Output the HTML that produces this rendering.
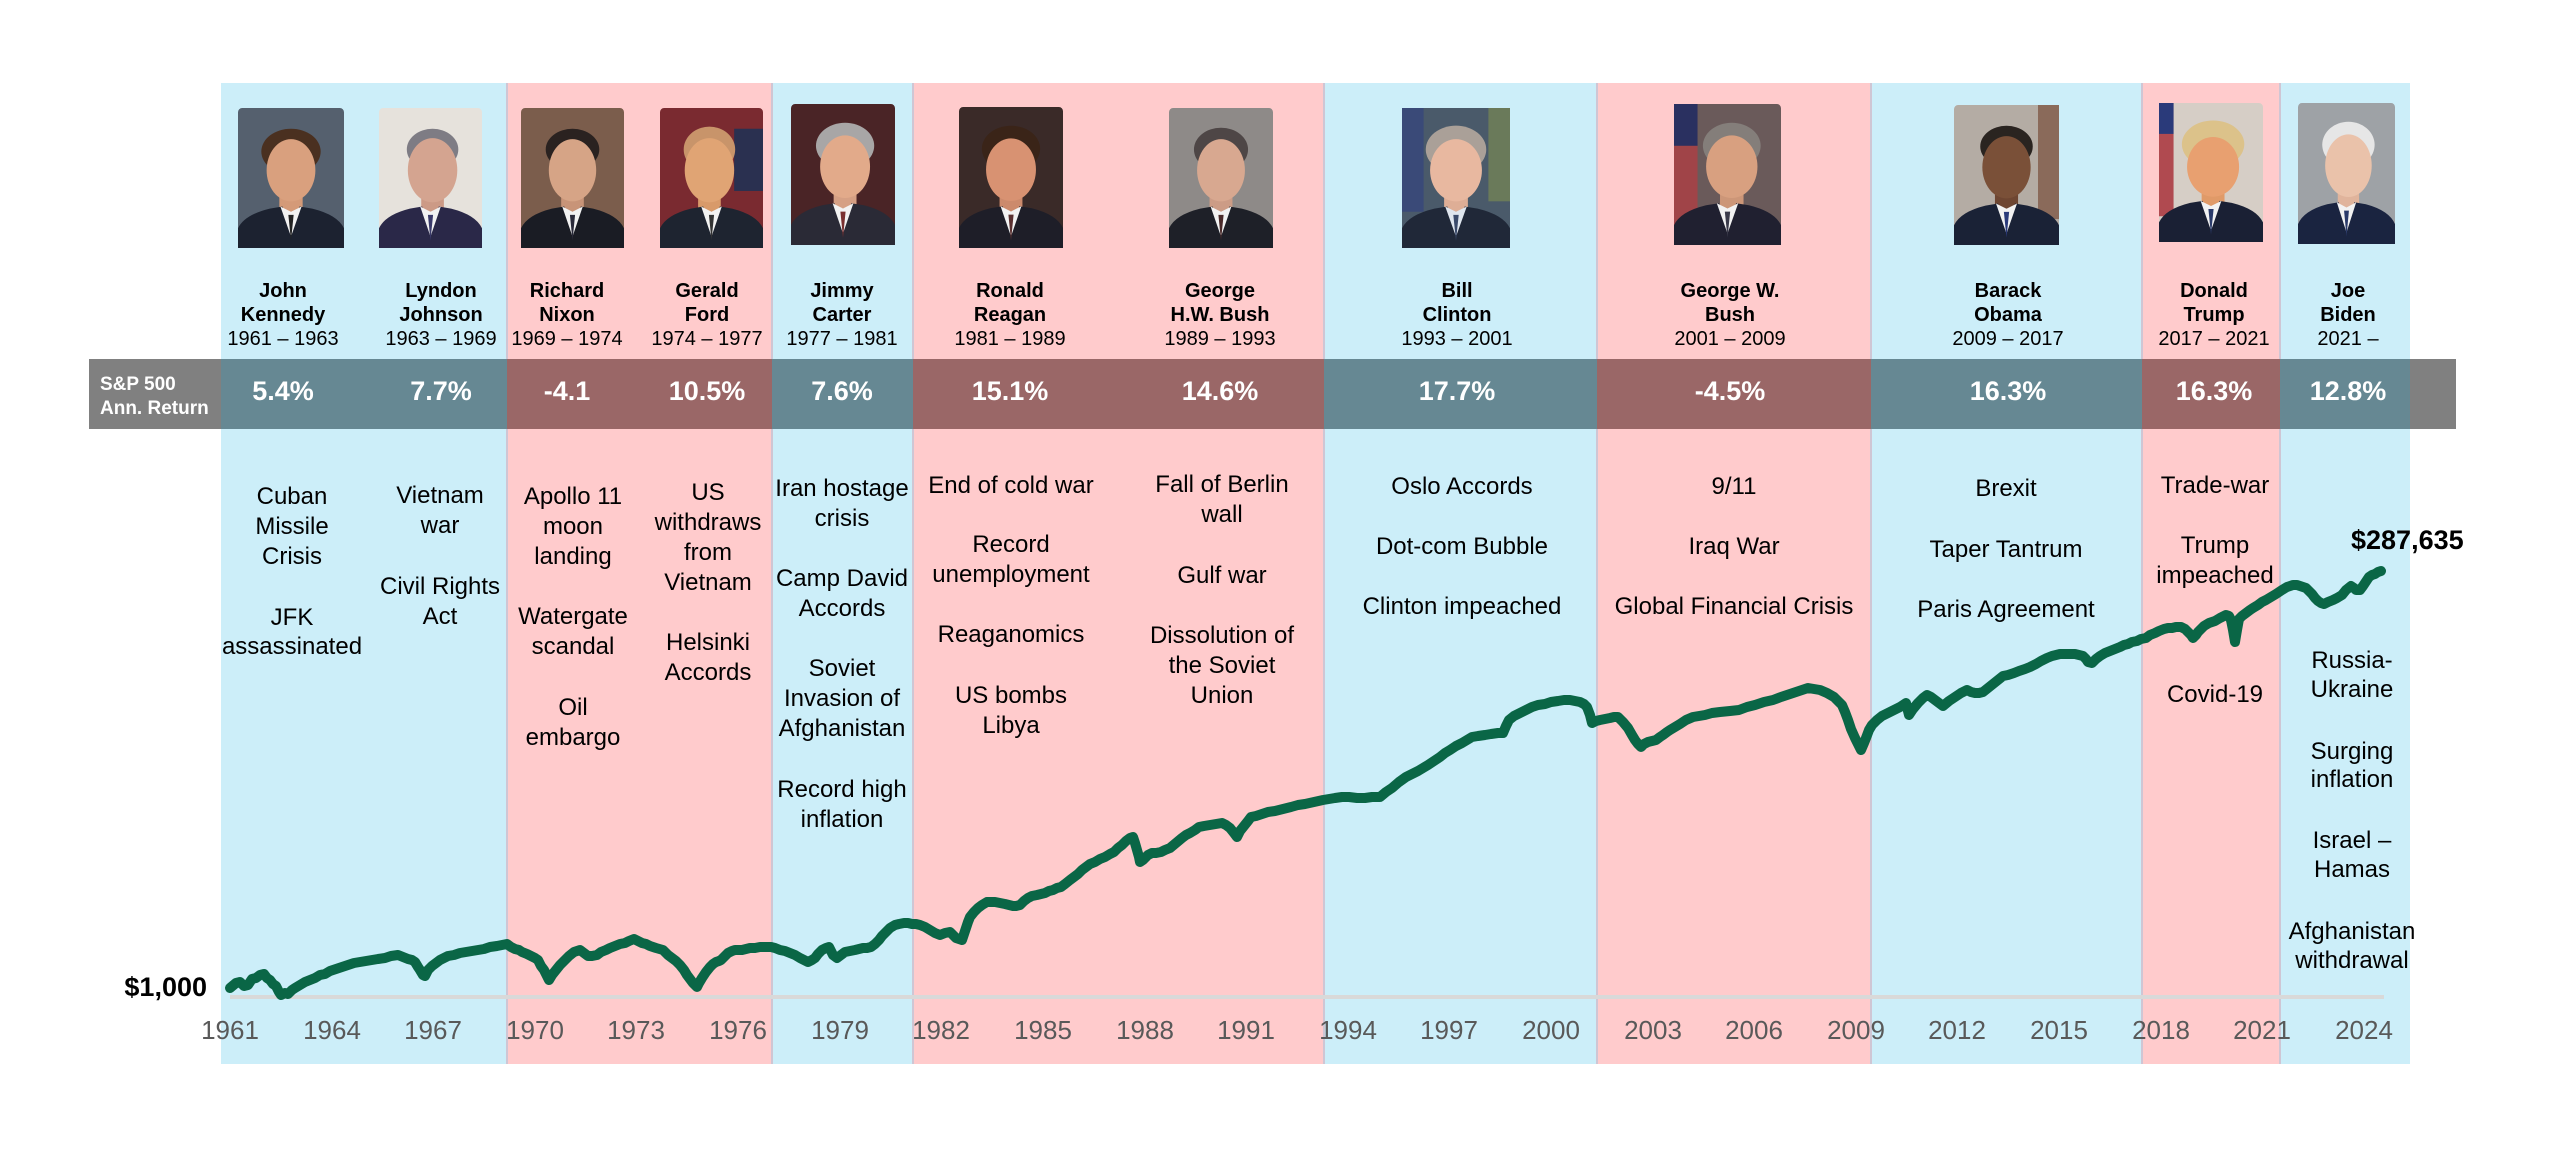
<!DOCTYPE html>
<html>
<head>
<meta charset="utf-8">
<style>
html,body{margin:0;padding:0;background:#fff;}
body{width:2560px;height:1157px;overflow:hidden;}
svg{display:block;}
text{font-family:"Liberation Sans",Arial,sans-serif;}
.nm{font-size:20px;font-weight:bold;fill:#000;text-anchor:middle;}
.dt{font-size:20px;fill:#000;text-anchor:middle;}
.pc{font-size:27px;font-weight:bold;fill:#fff;text-anchor:middle;}
.ev{font-size:24px;fill:#000;text-anchor:middle;}
.yr{font-size:26px;fill:#595959;text-anchor:middle;}
</style>
</head>
<body>
<svg width="2560" height="1157" viewBox="0 0 2560 1157" xmlns="http://www.w3.org/2000/svg">
<!-- background bands -->
<rect x="221" y="83" width="286" height="981" fill="#cceef9"/>
<rect x="507" y="83" width="265" height="981" fill="#ffcbcc"/>
<rect x="772" y="83" width="141" height="981" fill="#cceef9"/>
<rect x="913" y="83" width="411" height="981" fill="#ffcbcc"/>
<rect x="1324" y="83" width="273" height="981" fill="#cceef9"/>
<rect x="1597" y="83" width="274" height="981" fill="#ffcbcc"/>
<rect x="1871" y="83" width="271" height="981" fill="#cceef9"/>
<rect x="2142" y="83" width="138" height="981" fill="#ffcbcc"/>
<rect x="2280" y="83" width="130" height="981" fill="#cceef9"/>
<!-- boundary lines -->
<g stroke="#cfc6d4" stroke-width="2">
<line x1="507" y1="83" x2="507" y2="1064"/>
<line x1="772" y1="83" x2="772" y2="1064"/>
<line x1="913" y1="83" x2="913" y2="1064"/>
<line x1="1324" y1="83" x2="1324" y2="1064"/>
<line x1="1597" y1="83" x2="1597" y2="1064"/>
<line x1="1871" y1="83" x2="1871" y2="1064"/>
<line x1="2142" y1="83" x2="2142" y2="1064"/>
<line x1="2280" y1="83" x2="2280" y2="1064"/>
</g>
<!-- gray return band -->
<rect x="89" y="359" width="132" height="70" fill="#808080"/>
<rect x="221" y="359" width="286" height="70" fill="#668893"/>
<rect x="507" y="359" width="265" height="70" fill="#9a6767"/>
<rect x="772" y="359" width="141" height="70" fill="#668893"/>
<rect x="913" y="359" width="411" height="70" fill="#9a6767"/>
<rect x="1324" y="359" width="273" height="70" fill="#668893"/>
<rect x="1597" y="359" width="274" height="70" fill="#9a6767"/>
<rect x="1871" y="359" width="271" height="70" fill="#668893"/>
<rect x="2142" y="359" width="138" height="70" fill="#9a6767"/>
<rect x="2280" y="359" width="130" height="70" fill="#668893"/>
<rect x="2410" y="359" width="46" height="70" fill="#808080"/>

<text x="100" y="390" style="font-size:19px;font-weight:bold;fill:#fff;">S&amp;P 500</text>
<text x="100" y="414" style="font-size:19px;font-weight:bold;fill:#fff;">Ann. Return</text>

<text class="pc" x="283" y="400">5.4%</text>
<text class="pc" x="441" y="400">7.7%</text>
<text class="pc" x="567" y="400">-4.1</text>
<text class="pc" x="707" y="400">10.5%</text>
<text class="pc" x="842" y="400">7.6%</text>
<text class="pc" x="1010" y="400">15.1%</text>
<text class="pc" x="1220" y="400">14.6%</text>
<text class="pc" x="1457" y="400">17.7%</text>
<text class="pc" x="1730" y="400">-4.5%</text>
<text class="pc" x="2008" y="400">16.3%</text>
<text class="pc" x="2214" y="400">16.3%</text>
<text class="pc" x="2348" y="400">12.8%</text>

<!-- names -->
<text class="nm" x="283" y="297">John</text><text class="nm" x="283" y="321">Kennedy</text><text class="dt" x="283" y="345">1961 – 1963</text>
<text class="nm" x="441" y="297">Lyndon</text><text class="nm" x="441" y="321">Johnson</text><text class="dt" x="441" y="345">1963 – 1969</text>
<text class="nm" x="567" y="297">Richard</text><text class="nm" x="567" y="321">Nixon</text><text class="dt" x="567" y="345">1969 – 1974</text>
<text class="nm" x="707" y="297">Gerald</text><text class="nm" x="707" y="321">Ford</text><text class="dt" x="707" y="345">1974 – 1977</text>
<text class="nm" x="842" y="297">Jimmy</text><text class="nm" x="842" y="321">Carter</text><text class="dt" x="842" y="345">1977 – 1981</text>
<text class="nm" x="1010" y="297">Ronald</text><text class="nm" x="1010" y="321">Reagan</text><text class="dt" x="1010" y="345">1981 – 1989</text>
<text class="nm" x="1220" y="297">George</text><text class="nm" x="1220" y="321">H.W. Bush</text><text class="dt" x="1220" y="345">1989 – 1993</text>
<text class="nm" x="1457" y="297">Bill</text><text class="nm" x="1457" y="321">Clinton</text><text class="dt" x="1457" y="345">1993 – 2001</text>
<text class="nm" x="1730" y="297">George W.</text><text class="nm" x="1730" y="321">Bush</text><text class="dt" x="1730" y="345">2001 – 2009</text>
<text class="nm" x="2008" y="297">Barack</text><text class="nm" x="2008" y="321">Obama</text><text class="dt" x="2008" y="345">2009 – 2017</text>
<text class="nm" x="2214" y="297">Donald</text><text class="nm" x="2214" y="321">Trump</text><text class="dt" x="2214" y="345">2017 – 2021</text>
<text class="nm" x="2348" y="297">Joe</text><text class="nm" x="2348" y="321">Biden</text><text class="dt" x="2348" y="345">2021 –</text>

<!-- events -->
<text class="ev" x="292" y="504">Cuban</text><text class="ev" x="292" y="534">Missile</text><text class="ev" x="292" y="564">Crisis</text><text class="ev" x="292" y="625">JFK</text><text class="ev" x="292" y="654">assassinated</text>
<text class="ev" x="440" y="503">Vietnam</text><text class="ev" x="440" y="533">war</text><text class="ev" x="440" y="594">Civil Rights</text><text class="ev" x="440" y="624">Act</text>
<text class="ev" x="573" y="504">Apollo 11</text><text class="ev" x="573" y="534">moon</text><text class="ev" x="573" y="564">landing</text><text class="ev" x="573" y="624">Watergate</text><text class="ev" x="573" y="654">scandal</text><text class="ev" x="573" y="715">Oil</text><text class="ev" x="573" y="745">embargo</text>
<text class="ev" x="708" y="500">US</text><text class="ev" x="708" y="530">withdraws</text><text class="ev" x="708" y="560">from</text><text class="ev" x="708" y="590">Vietnam</text><text class="ev" x="708" y="650">Helsinki</text><text class="ev" x="708" y="680">Accords</text>
<text class="ev" x="842" y="496">Iran hostage</text><text class="ev" x="842" y="526">crisis</text><text class="ev" x="842" y="586">Camp David</text><text class="ev" x="842" y="616">Accords</text><text class="ev" x="842" y="676">Soviet</text><text class="ev" x="842" y="706">Invasion of</text><text class="ev" x="842" y="736">Afghanistan</text><text class="ev" x="842" y="797">Record high</text><text class="ev" x="842" y="827">inflation</text>
<text class="ev" x="1011" y="493">End of cold war</text><text class="ev" x="1011" y="552">Record</text><text class="ev" x="1011" y="582">unemployment</text><text class="ev" x="1011" y="642">Reaganomics</text><text class="ev" x="1011" y="703">US bombs</text><text class="ev" x="1011" y="733">Libya</text>
<text class="ev" x="1222" y="492">Fall of Berlin</text><text class="ev" x="1222" y="522">wall</text><text class="ev" x="1222" y="583">Gulf war</text><text class="ev" x="1222" y="643">Dissolution of</text><text class="ev" x="1222" y="673">the Soviet</text><text class="ev" x="1222" y="703">Union</text>
<text class="ev" x="1462" y="494">Oslo Accords</text><text class="ev" x="1462" y="554">Dot-com Bubble</text><text class="ev" x="1462" y="614">Clinton impeached</text>
<text class="ev" x="1734" y="494">9/11</text><text class="ev" x="1734" y="554">Iraq War</text><text class="ev" x="1734" y="614">Global Financial Crisis</text>
<text class="ev" x="2006" y="496">Brexit</text><text class="ev" x="2006" y="557">Taper Tantrum</text><text class="ev" x="2006" y="617">Paris Agreement</text>
<text class="ev" x="2215" y="493">Trade-war</text><text class="ev" x="2215" y="553">Trump</text><text class="ev" x="2215" y="583">impeached</text><text class="ev" x="2215" y="702">Covid-19</text>
<text class="ev" x="2352" y="668">Russia-</text><text class="ev" x="2352" y="697">Ukraine</text><text class="ev" x="2352" y="759">Surging</text><text class="ev" x="2352" y="787">inflation</text><text class="ev" x="2352" y="848">Israel –</text><text class="ev" x="2352" y="877">Hamas</text><text class="ev" x="2352" y="939">Afghanistan</text><text class="ev" x="2352" y="968">withdrawal</text>

<!-- axis -->
<line x1="230" y1="997" x2="2384" y2="997" stroke="#d9d9d9" stroke-width="4"/>
<text class="yr" x="230" y="1039">1961</text>
<text class="yr" x="332" y="1039">1964</text>
<text class="yr" x="433" y="1039">1967</text>
<text class="yr" x="535" y="1039">1970</text>
<text class="yr" x="636" y="1039">1973</text>
<text class="yr" x="738" y="1039">1976</text>
<text class="yr" x="840" y="1039">1979</text>
<text class="yr" x="941" y="1039">1982</text>
<text class="yr" x="1043" y="1039">1985</text>
<text class="yr" x="1145" y="1039">1988</text>
<text class="yr" x="1246" y="1039">1991</text>
<text class="yr" x="1348" y="1039">1994</text>
<text class="yr" x="1449" y="1039">1997</text>
<text class="yr" x="1551" y="1039">2000</text>
<text class="yr" x="1653" y="1039">2003</text>
<text class="yr" x="1754" y="1039">2006</text>
<text class="yr" x="1856" y="1039">2009</text>
<text class="yr" x="1957" y="1039">2012</text>
<text class="yr" x="2059" y="1039">2015</text>
<text class="yr" x="2161" y="1039">2018</text>
<text class="yr" x="2262" y="1039">2021</text>
<text class="yr" x="2364" y="1039">2024</text>

<text x="207" y="996" style="font-size:27px;font-weight:bold;fill:#000;text-anchor:end;">$1,000</text>
<text x="2351" y="549" style="font-size:27px;font-weight:bold;fill:#000;">$287,635</text>

<!-- data line -->
<polyline fill="none" stroke="#0a6646" stroke-width="10" stroke-linejoin="round" stroke-linecap="round" points="
230,988 236,983 240,982 244,986 248,985 252,979 256,978 260,975 264,974 267,978 270,980 273,984 276,986 279,992 281,995 285,993 288,994 292,990 295,988 300,985 305,982 310,980 315,978 320,975 325,974 330,971 336,969 342,967 348,965 354,963 360,962 366,961 372,960 378,959 385,958 391,956 398,955 403,957 408,959 412,960 415,962 418,967 420,970 423,975 425,976 428,970 432,966 436,963 440,960 444,958 448,956 454,955 460,953 466,952 472,951 478,950 484,949 490,947 497,946 502,945 507,944 511,947 515,949 519,950 522,952 527,954 531,956 535,958 538,960 541,966 544,970 547,976 549,980 552,975 556,970 560,965 565,960 569,956 574,952 577,951 580,950 584,953 588,956 592,956 597,955 601,952 606,950 610,948 615,946 620,944 625,943 629,941 634,939 638,941 642,943 646,944 650,946 656,948 663,950 668,955 672,958 676,961 680,965 684,970 687,975 690,979 693,983 697,987 699,983 702,978 706,972 710,967 713,964 716,962 719,961 721,960 725,956 728,953 732,951 735,950 738,950 742,950 746,949 750,948 755,948 760,947 765,947 771,947 775,948 780,950 785,951 790,953 795,955 800,958 804,960 808,962 812,960 815,958 818,954 822,950 826,948 829,947 831,951 833,955 837,958 841,955 845,952 850,951 855,950 859,949 863,948 867,948 871,947 875,944 879,940 882,936 886,932 890,928 895,925 899,924 904,923 908,923 912,924 916,924 920,925 925,927 930,930 935,933 940,935 945,933 950,932 953,935 956,938 959,939 962,940 964,934 966,928 968,922 970,917 974,912 978,908 982,905 987,902 991,902 995,902 1000,903 1005,904 1009,905 1013,906 1016,906 1020,905 1024,901 1028,898 1032,896 1037,895 1041,894 1045,893 1049,891 1053,890 1057,888 1061,887 1065,884 1070,880 1074,877 1078,874 1082,870 1086,867 1090,864 1095,862 1100,859 1105,857 1110,854 1114,852 1118,848 1122,845 1126,841 1130,838 1133,837 1135,843 1137,850 1139,857 1140,862 1143,860 1145,858 1148,855 1152,853 1156,853 1161,852 1165,850 1170,848 1176,843 1182,838 1186,835 1190,833 1195,830 1199,827 1204,826 1210,825 1216,824 1222,823 1226,825 1230,828 1234,833 1237,837 1240,831 1244,826 1248,821 1251,817 1256,816 1262,814 1268,812 1275,811 1283,809 1291,807 1298,805 1305,804 1314,802 1323,800 1329,799 1335,798 1342,797 1349,797 1357,798 1365,798 1372,797 1380,797 1386,792 1392,788 1399,782 1406,777 1412,774 1418,771 1423,768 1428,765 1434,761 1440,757 1445,753 1450,750 1456,746 1462,743 1467,740 1472,737 1478,736 1485,735 1491,734 1498,733 1503,733 1506,726 1509,720 1514,716 1520,713 1526,710 1532,707 1538,705 1545,704 1551,702 1558,701 1564,700 1570,700 1575,701 1580,702 1584,704 1587,707 1590,715 1592,723 1596,721 1600,720 1605,719 1610,718 1614,717 1618,717 1623,722 1628,728 1632,735 1635,740 1638,744 1641,747 1644,744 1648,742 1652,741 1656,740 1660,737 1663,735 1667,732 1670,730 1675,727 1680,724 1686,720 1693,717 1699,716 1705,715 1712,713 1720,712 1730,711 1739,710 1747,707 1755,705 1764,702 1773,700 1781,697 1790,694 1799,691 1808,688 1814,689 1820,690 1827,693 1834,697 1838,701 1842,705 1845,712 1848,720 1851,729 1855,738 1858,744 1861,750 1864,743 1866,738 1869,730 1872,725 1875,722 1877,720 1882,716 1888,713 1894,710 1900,707 1906,703 1909,715 1913,709 1918,703 1923,698 1927,695 1931,697 1935,700 1939,703 1943,706 1949,701 1955,697 1961,693 1967,690 1971,692 1975,693 1979,693 1983,692 1988,688 1993,684 1998,680 2003,676 2008,675 2014,673 2019,671 2025,669 2030,667 2036,664 2041,661 2047,658 2052,656 2056,655 2060,654 2065,654 2070,654 2075,654 2079,655 2083,656 2086,659 2088,662 2092,663 2096,659 2100,656 2105,653 2110,651 2115,649 2120,647 2124,645 2128,644 2132,642 2137,641 2141,639 2146,638 2150,635 2155,633 2159,631 2164,629 2168,628 2172,628 2176,627 2181,627 2185,629 2188,632 2191,635 2193,638 2196,635 2198,632 2201,629 2204,626 2209,623 2215,621 2220,618 2226,615 2229,616 2231,620 2233,630 2235,642 2237,630 2239,619 2242,616 2246,613 2250,610 2253,608 2258,605 2262,602 2266,600 2271,597 2276,594 2282,590 2287,587 2293,585 2297,585 2300,586 2303,587 2306,588 2309,591 2312,594 2315,598 2318,601 2321,603 2324,604 2328,602 2333,600 2337,598 2342,595 2346,590 2351,586 2354,588 2356,590 2360,590 2363,586 2365,583 2369,577 2372,575 2375,574 2378,572 2381,571"/>

<!-- portraits -->
<!-- Kennedy -->
<svg x="238" y="108" width="106" height="140" viewBox="0 0 100 135" preserveAspectRatio="none">
<rect width="100" height="135" rx="4" fill="#55606e"/>
<ellipse cx="50" cy="42" rx="28" ry="22" fill="#4a3020"/>
<rect x="39" y="80" width="22" height="20" fill="#d49a78"/>
<ellipse cx="50" cy="60" rx="23" ry="30" fill="#d9a07e"/>
<path d="M0 135 L0 116 Q6 103 30 97 L42 95 L50 124 L58 95 L70 97 Q94 103 100 116 L100 135Z" fill="#1c2230"/>
<path d="M40 95 L50 124 L60 95 L50 100Z" fill="#f2f2f2"/>
<path d="M47.5 103 L50 128 L52.5 103Z" fill="#222"/>
</svg>
<!-- Johnson -->
<svg x="379" y="108" width="103" height="140" viewBox="0 0 100 135" preserveAspectRatio="none">
<rect width="100" height="135" rx="4" fill="#e6e2dc"/>
<ellipse cx="52" cy="40" rx="25" ry="20" fill="#7e7c84"/>
<rect x="41" y="80" width="22" height="20" fill="#cc9a86"/>
<ellipse cx="52" cy="60" rx="24" ry="31" fill="#d4a490"/>
<path d="M0 135 L0 116 Q6 103 30 97 L42 95 L50 124 L58 95 L70 97 Q94 103 100 116 L100 135Z" fill="#2a2848"/>
<path d="M40 95 L50 124 L60 95 L50 100Z" fill="#f2f2f2"/>
<path d="M47.5 103 L50 128 L52.5 103Z" fill="#3a3a6a"/>
</svg>
<!-- Nixon -->
<svg x="521" y="108" width="103" height="140" viewBox="0 0 100 135" preserveAspectRatio="none">
<rect width="100" height="135" rx="4" fill="#7b5d4c"/>
<ellipse cx="50" cy="40" rx="26" ry="20" fill="#2a2220"/>
<rect x="39" y="80" width="22" height="20" fill="#c89478"/>
<ellipse cx="50" cy="60" rx="23" ry="30" fill="#d6a486"/>
<path d="M0 135 L0 116 Q6 103 30 97 L42 95 L50 124 L58 95 L70 97 Q94 103 100 116 L100 135Z" fill="#1a1c24"/>
<path d="M40 95 L50 124 L60 95 L50 100Z" fill="#f2f2f2"/>
<path d="M47.5 103 L50 128 L52.5 103Z" fill="#2a2a3a"/>
</svg>
<!-- Ford -->
<svg x="660" y="108" width="103" height="140" viewBox="0 0 100 135" preserveAspectRatio="none">
<rect width="100" height="135" rx="4" fill="#7a2a30"/>
<rect x="72" y="20" width="28" height="60" fill="#2a3050"/>
<ellipse cx="48" cy="40" rx="25" ry="22" fill="#c8946a"/>
<rect x="37" y="80" width="22" height="20" fill="#d89a6a"/>
<ellipse cx="48" cy="60" rx="24" ry="31" fill="#e0a474"/>
<path d="M0 135 L0 116 Q6 103 30 97 L42 95 L50 124 L58 95 L70 97 Q94 103 100 116 L100 135Z" fill="#1e2430"/>
<path d="M40 95 L50 124 L60 95 L50 100Z" fill="#f2f2f2"/>
<path d="M47.5 103 L50 128 L52.5 103Z" fill="#333"/>
</svg>
<!-- Carter -->
<svg x="791" y="104" width="104" height="141" viewBox="0 0 100 135" preserveAspectRatio="none">
<rect width="100" height="135" rx="4" fill="#4a2426"/>
<ellipse cx="52" cy="40" rx="28" ry="22" fill="#a8a6a6"/>
<rect x="41" y="80" width="22" height="20" fill="#d6a084"/>
<ellipse cx="52" cy="60" rx="24" ry="30" fill="#e2aa8a"/>
<path d="M0 135 L0 116 Q6 103 30 97 L42 95 L50 124 L58 95 L70 97 Q94 103 100 116 L100 135Z" fill="#2a2a36"/>
<path d="M40 95 L50 124 L60 95 L50 100Z" fill="#f2f2f2"/>
<path d="M47.5 103 L50 128 L52.5 103Z" fill="#7a3030"/>
</svg>
<!-- Reagan -->
<svg x="959" y="107" width="104" height="141" viewBox="0 0 100 135" preserveAspectRatio="none">
<rect width="100" height="135" rx="4" fill="#3a2a28"/>
<ellipse cx="50" cy="40" rx="28" ry="22" fill="#3a2418"/>
<rect x="39" y="80" width="22" height="20" fill="#cc8a6c"/>
<ellipse cx="50" cy="60" rx="24" ry="30" fill="#d89272"/>
<path d="M0 135 L0 116 Q6 103 30 97 L42 95 L50 124 L58 95 L70 97 Q94 103 100 116 L100 135Z" fill="#1e1e28"/>
<path d="M40 95 L50 124 L60 95 L50 100Z" fill="#f2f2f2"/>
<path d="M47.5 103 L50 128 L52.5 103Z" fill="#5a3030"/>
</svg>
<!-- Bush Sr -->
<svg x="1169" y="108" width="104" height="140" viewBox="0 0 100 135" preserveAspectRatio="none">
<rect width="100" height="135" rx="4" fill="#8e8a88"/>
<ellipse cx="50" cy="40" rx="26" ry="21" fill="#4e4646"/>
<rect x="39" y="80" width="22" height="20" fill="#cc9c86"/>
<ellipse cx="50" cy="60" rx="23" ry="30" fill="#d8a890"/>
<path d="M0 135 L0 116 Q6 103 30 97 L42 95 L50 124 L58 95 L70 97 Q94 103 100 116 L100 135Z" fill="#1e2028"/>
<path d="M40 95 L50 124 L60 95 L50 100Z" fill="#f2f2f2"/>
<path d="M47.5 103 L50 128 L52.5 103Z" fill="#4a2a2a"/>
</svg>
<!-- Clinton -->
<svg x="1402" y="108" width="108" height="140" viewBox="0 0 100 135" preserveAspectRatio="none">
<rect width="100" height="135" rx="4" fill="#4a5a6a"/>
<rect x="0" y="0" width="20" height="100" fill="#3a4a78"/>
<rect x="80" y="0" width="20" height="90" fill="#6a7a5a"/>
<ellipse cx="50" cy="40" rx="28" ry="23" fill="#aaa098"/>
<rect x="39" y="80" width="22" height="20" fill="#deae96"/>
<ellipse cx="50" cy="60" rx="24" ry="30" fill="#e8b8a0"/>
<path d="M0 135 L0 116 Q6 103 30 97 L42 95 L50 124 L58 95 L70 97 Q94 103 100 116 L100 135Z" fill="#202838"/>
<path d="M40 95 L50 124 L60 95 L50 100Z" fill="#dfe6ee"/>
<path d="M47.5 103 L50 128 L52.5 103Z" fill="#3a4a6a"/>
</svg>
<!-- GW Bush -->
<svg x="1674" y="104" width="107" height="141" viewBox="0 0 100 135" preserveAspectRatio="none">
<rect width="100" height="135" rx="4" fill="#6a5a5a"/>
<rect x="0" y="0" width="22" height="135" fill="#a04448"/>
<rect x="0" y="0" width="22" height="40" fill="#2a3060"/>
<ellipse cx="54" cy="40" rx="27" ry="22" fill="#847e7a"/>
<rect x="43" y="80" width="22" height="20" fill="#cc9678"/>
<ellipse cx="54" cy="60" rx="24" ry="30" fill="#d8a080"/>
<path d="M0 135 L0 116 Q6 103 30 97 L42 95 L50 124 L58 95 L70 97 Q94 103 100 116 L100 135Z" fill="#202030"/>
<path d="M40 95 L50 124 L60 95 L50 100Z" fill="#f2f2f2"/>
<path d="M47.5 103 L50 128 L52.5 103Z" fill="#3a3a4a"/>
</svg>
<!-- Obama -->
<svg x="1954" y="105" width="105" height="140" viewBox="0 0 100 135" preserveAspectRatio="none">
<rect width="100" height="135" rx="4" fill="#b4aca4"/>
<rect x="80" y="0" width="20" height="110" fill="#8a6a5a"/>
<ellipse cx="50" cy="40" rx="25" ry="20" fill="#2a2420"/>
<rect x="39" y="80" width="22" height="20" fill="#6e4632"/>
<ellipse cx="50" cy="60" rx="23" ry="30" fill="#7a5038"/>
<path d="M0 135 L0 116 Q6 103 30 97 L42 95 L50 124 L58 95 L70 97 Q94 103 100 116 L100 135Z" fill="#1a2236"/>
<path d="M40 95 L50 124 L60 95 L50 100Z" fill="#f2f2f2"/>
<path d="M47.5 103 L50 128 L52.5 103Z" fill="#2a3a7a"/>
</svg>
<!-- Trump -->
<svg x="2159" y="103" width="104" height="139" viewBox="0 0 100 135" preserveAspectRatio="none">
<rect width="100" height="135" rx="4" fill="#d6cec6"/>
<rect x="0" y="0" width="14" height="110" fill="#b04a50"/>
<rect x="0" y="0" width="14" height="30" fill="#2a3a7a"/>
<ellipse cx="52" cy="40" rx="30" ry="23" fill="#dcc28a"/>
<rect x="41" y="80" width="22" height="20" fill="#e09a68"/>
<ellipse cx="52" cy="62" rx="25" ry="29" fill="#e8a070"/>
<path d="M0 135 L0 116 Q6 103 30 97 L42 95 L50 124 L58 95 L70 97 Q94 103 100 116 L100 135Z" fill="#1a2034"/>
<path d="M40 95 L50 124 L60 95 L50 100Z" fill="#f2f2f2"/>
<path d="M47.5 103 L50 128 L52.5 103Z" fill="#2a3a6a"/>
</svg>
<!-- Biden -->
<svg x="2298" y="103" width="97" height="141" viewBox="0 0 100 135" preserveAspectRatio="none">
<rect width="100" height="135" rx="4" fill="#9ea2a6"/>
<ellipse cx="52" cy="40" rx="27" ry="22" fill="#e6e6e6"/>
<rect x="41" y="80" width="22" height="20" fill="#e0b49c"/>
<ellipse cx="52" cy="60" rx="24" ry="30" fill="#eac2aa"/>
<path d="M0 135 L0 116 Q6 103 30 97 L42 95 L50 124 L58 95 L70 97 Q94 103 100 116 L100 135Z" fill="#1a2440"/>
<path d="M40 95 L50 124 L60 95 L50 100Z" fill="#f2f2f2"/>
<path d="M47.5 103 L50 128 L52.5 103Z" fill="#2a3a6a"/>
</svg>
</svg>
</body>
</html>
